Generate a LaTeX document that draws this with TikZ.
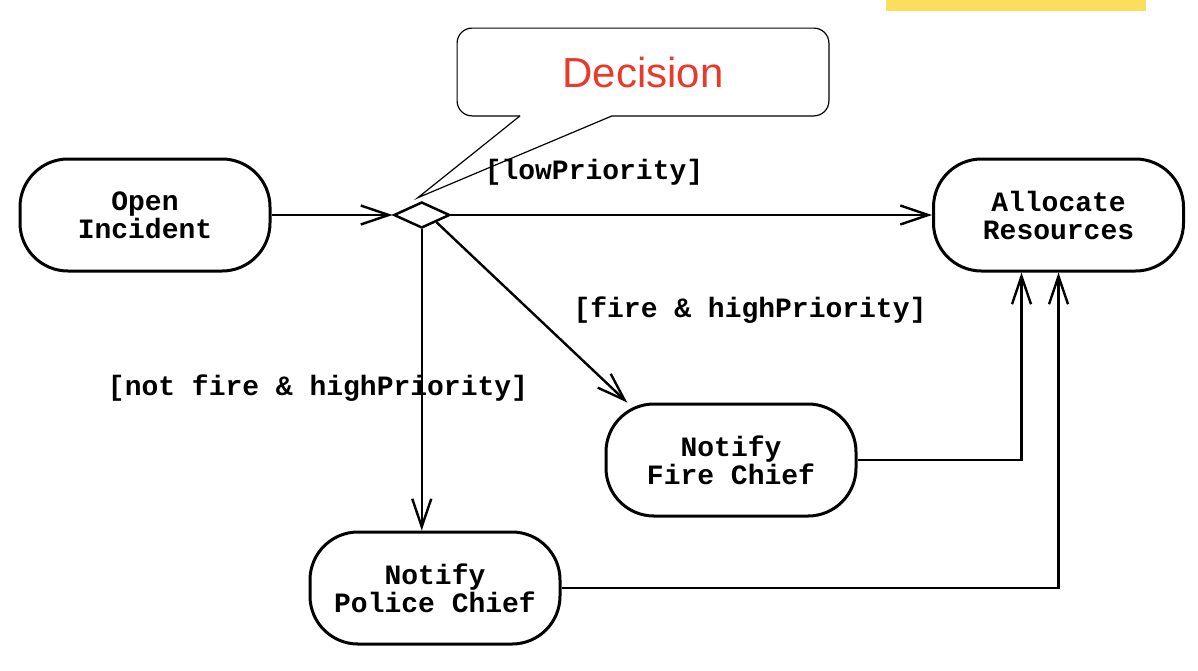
\documentclass[tikz,border=0pt]{standalone}
\usepackage{fontspec}
\setmonofont{Liberation Mono}
\newfontfamily\notefont{Liberation Sans}
\usepackage{tikz}
\usetikzlibrary{shapes.geometric,arrows.meta,positioning}
\definecolor{decred}{RGB}{233, 57, 42}
\definecolor{marker}{RGB}{250, 222, 92}
\tikzstyle{activity} = [rectangle, rounded corners=24pt, draw=black, line width=1.5pt, fill=white, align=center, font=\ttfamily\bfseries\fontsize{14}{14}\selectfont, minimum width=125pt, minimum height=56pt]
\tikzstyle{decision} = [diamond, draw=black, line width=1.25pt, inner sep=0pt, minimum width=28pt, minimum height=13pt]
\tikzstyle{textonly} = [draw=none, fill=none, text centered, font=\ttfamily\bfseries\fontsize{14}{14}\selectfont]
\tikzstyle{notetext} = [draw=none, minimum width=185.5pt, minimum height=43.5pt, text=decred, font=\notefont\fontsize{21}{21}\selectfont]
\tikzstyle{callout} = [draw, line width=0.6pt]
\tikzstyle{flow}  = [draw, line width=1.2pt, -{Straight Barb[length=14pt,width=9.5pt]}]
\begin{document}
\begin{tikzpicture}[x=0.5pt, y=-0.5pt]
\useasboundingbox (0,0) rectangle (1198,670);

% marker ==================================
\fill[marker] (886,0) rectangle (1146,11);

% activities ==============================
\node[activity] (open) at (145,215) {Open\\Incident};
\node[decision, right=60.5pt of open] (dec) {};
\node[activity, right=240.5pt of dec] (alloc) {Allocate\\Resources};
\node[activity] (fire) at (731,460) {Notify\\Fire Chief};
\node[activity] (police) at (435,588) {Notify\\Police Chief};

% guards
\node[textonly] (low) at (594,172) {[lowPriority]};
\node[textonly] (firehigh) at (750,310) {[fire \& highPriority]};
\node[textonly] (notfire) at (318,388) {[not fire \& highPriority]};

% note
\node[notetext] (note) at (643,72) {Decision};
\coordinate (pl) at ([xshift=-61.5pt]note.south);
\coordinate (pr) at ([xshift=-15.5pt]note.south);
\draw[callout, rounded corners=7.5pt] (pr) -| (note.north east) -| (note.south west) -- (pl);
\draw[callout] (pl) -- ([shift={(-2pt,1.5pt)}]dec.north) -- (pr);

% edges ===================================
\path[flow] (open) -- (dec);
\path[flow] (dec) -- (alloc);
\path[flow] (dec.south east) -- (fire.151);
\path[flow] (dec.south) -- (dec.south |- police.north);

\path[flow] (fire) -| ([xshift=-18.5pt]alloc.south);
\path[flow] (police) -| (alloc.south);

\end{tikzpicture}
\end{document}
